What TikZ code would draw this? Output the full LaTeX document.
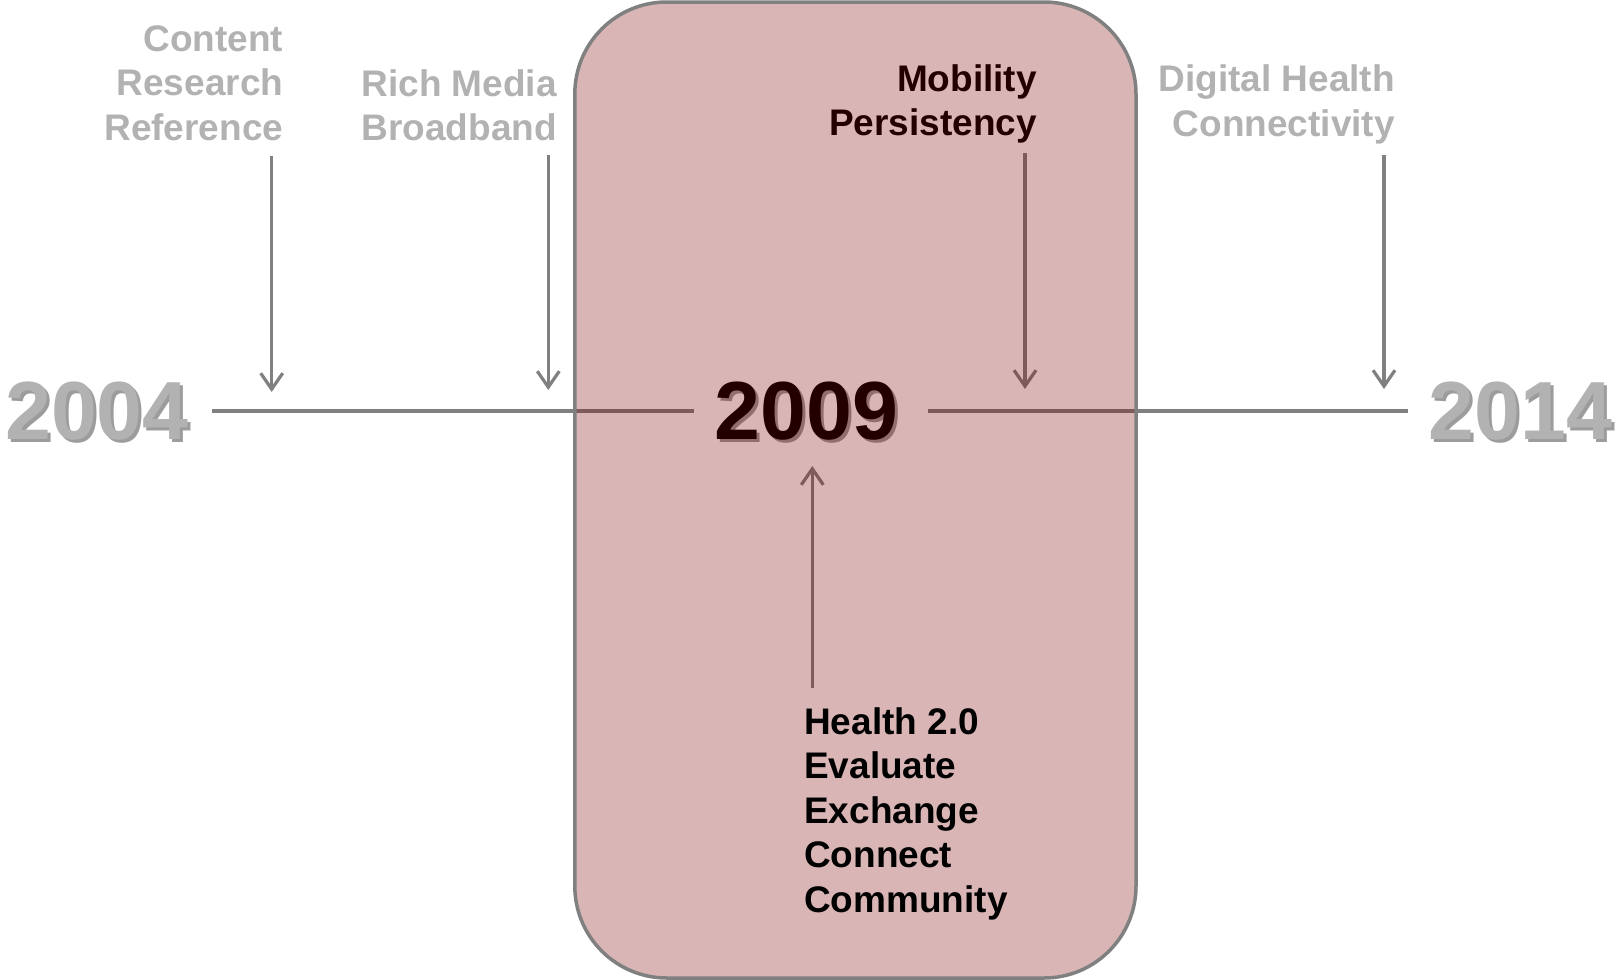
\documentclass[tikz,border=0pt]{standalone}
\usepackage{fontspec}
\setmainfont{Liberation Sans}
\usetikzlibrary{arrows.meta,calc}
\definecolor{lgray}{RGB}{178,178,178}
\definecolor{sgray}{RGB}{156,156,156}
\definecolor{lngray}{RGB}{128,128,128}
\definecolor{inbox}{RGB}{127,91,92}
\definecolor{boxred}{RGB}{124,0,0}
\newcommand\shtxt[3]{\smash{\makebox[0pt][l]{\hspace{3pt}\raisebox{-3pt}{\textcolor{#2}{#1}}}}\textcolor{#3}{#1}}
\begin{document}
\begin{tikzpicture}[x=1pt,y=-1pt,
  lbl/.style={font=\fontsize{37}{44.5}\selectfont\bfseries, inner sep=0pt},
  glbl/.style={lbl, text=lgray, align=right},
  dlbl/.style={lbl, text=black, align=right},
  blbl/.style={lbl, text=black, align=left},
  year/.style={font=\fontsize{82.5}{90}\selectfont\bfseries, inner xsep=21pt, inner ysep=0pt},
  tl/.style={draw=lngray, line width=3.5pt},
  arr/.style={draw=lngray, line width=3.2pt, -{Straight Barb[length=16pt,width=22pt]}},
  boxst/.style={draw=lngray, line width=3.5pt, fill=boxred, fill opacity=0.29, rounded corners=92pt}]
\useasboundingbox (0,0) rectangle (1618,980);

% years
\node[year] (y2004) at (97,411) {\shtxt{2004}{sgray}{lgray}};
\node[year] (y2009) at (806.5,411) {\shtxt{2009}{sgray}{black}};
\node[year] (y2014) at (1520.5,411) {\shtxt{2014}{sgray}{lgray}};

% timeline
\draw[tl] ([xshift=2pt]y2004.east) -- (y2009.west);
\draw[tl] ([xshift=9pt]y2009.east) -- (y2014.west);

% labels
\node[glbl, anchor=north east] (cr) at (283.5,25.2) {Content\\Research\\Reference};
\node[glbl, anchor=north east] (rm) at (557,69) {Rich Media\\Broadband};
\node[dlbl, anchor=north east] (mp) at (1037,64) {Mobility\\Persistency};
\node[glbl, anchor=north east] (dh) at (1395,64.5) {Digital Health\\Connectivity};

% arrow tips
\coordinate (t1) at (271.7,392);
\coordinate (t2) at (548.3,390);
\coordinate (t3) at (1025,389);
\coordinate (t4) at (1384,389);
\coordinate (t5) at (812.3,466);

\draw[arr] ($(cr.south -| t1)+(0,15)$) -- (t1);
\draw[arr] ($(rm.south -| t2)+(0,14)$) -- (t2);
\draw[arr] ($(mp.south -| t3)+(0,10)$) -- (t3);
\draw[arr] ($(dh.south -| t4)+(0,11)$) -- (t4);

% 2009 box
\draw[boxst] (574.8,2) rectangle (1136,978);

% Health 2.0 list
\node[blbl, anchor=north west] (hl) at (804,707) {Health 2.0\\Evaluate\\Exchange\\Connect\\Community};
\draw[arr, draw=inbox] ($(hl.north -| t5)+(0,-19)$) -- (t5);
\end{tikzpicture}
\end{document}
